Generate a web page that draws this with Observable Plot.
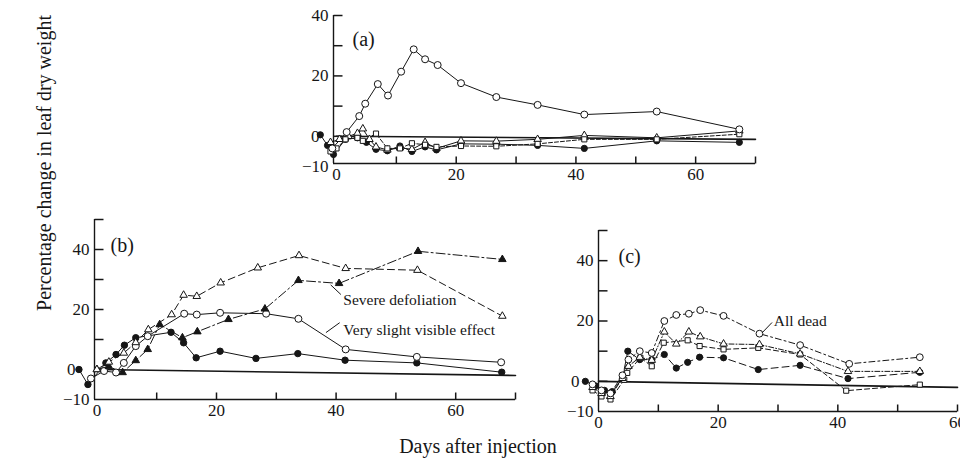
<!DOCTYPE html>
<html><head><meta charset="utf-8">
<script src="https://cdn.jsdelivr.net/npm/d3@7"></script>
<script src="https://cdn.jsdelivr.net/npm/@observablehq/plot@0.6"></script>
<style>
body{margin:0;background:#fff;}
#wrap{position:relative;width:960px;height:461px;overflow:hidden;font-family:"Liberation Serif",serif;background:#fff;}
#wrap svg{position:absolute;left:0;top:0;}
.lab{position:absolute;font-size:20px;color:#161616;white-space:nowrap;}
</style></head><body><div id="wrap"></div>
<script>
// ---------- Panel (a) data ----------
const aOpenDays   = [-0.7, 1.7, 3.8, 4.8, 6.9, 8.6, 10.8, 12.9, 14.8, 16.9, 20.8, 26.7, 33.6, 41.4, 53.5, 67.3];
const aOpenVals   = [-4, 1.4, 6.7, 10.8, 17.3, 13.5, 21.4, 28.8, 25.5, 23.6, 17.6, 13.0, 10.4, 7.2, 8.2, 2.3];
const aFilledDays = [-2.7, -1.5, -0.5, 1.5, 3.5, 5, 6.6, 8.5, 10.6, 12.6, 14.8, 16.7, 20.8, 26.7, 33.6, 41.4, 53.5, 67.3];
const aFilledVals = [0.5, -3, -6, -1, -0.5, -2, -4.3, -4.8, -3.2, -5, -3.5, -4.5, -2.5, -2.6, -3, -4, -1.5, -2];
const aTriDays    = [-1, 0.5, 2, 3.5, 4.4, 5.5, 6.6, 8.5, 10.6, 12.6, 14.8, 16.7, 20.8, 26.7, 33.6, 41.4, 53.5, 67.3];
const aTriVals    = [-2, -1, 0, 1, 2.5, -1, -3.5, -4.5, -3.8, -4.3, -2, -4, -1.5, -1.6, -1, 0.3, -0.5, 1.8];
const aSquareDays = [-1, 0, 1.5, 3.5, 4.4, 6.6, 8.5, 10.6, 12.6, 14.8, 16.7, 20.8, 26.7, 33.6, 41.4, 53.5, 67.3];
const aSquareVals = [-5, -4, -1, -0.5, -1.5, 0.9, -4, -4, -2.3, -2.8, -3.5, -3.2, -3.3, -2.5, -1, -1, 0.7];
const aBaseDays = [0, 70];
const aBaseVals = [0, -1];

// ---------- Panel (b) data ----------
const bOpenTriDays   = [0, 2, 4.5, 6.5, 8.6, 12.5, 14.5, 16.7, 20.7, 26.9, 33.8, 41.6, 53.6, 67.8];
const bOpenTriVals   = [0, 2.5, 5.5, 9, 13.3, 18.3, 24.8, 24.4, 28.9, 33.9, 38, 33.7, 33.1, 17.8];
const bFilledTriDays = [0, 2, 4.3, 6.5, 8.5, 10.5, 14.3, 16.8, 22, 28.1, 33.7, 40.5, 53.7, 67.8];
const bFilledTriVals = [0, 1, -1, 3, 6.7, 15, 10.6, 12.6, 16.7, 20.2, 29.7, 28.7, 39.4, 36.7];
const bOpenCircDays  = [-1, 1.2, 3.2, 4.5, 6.5, 8.5, 14.6, 16.7, 20.6, 28.3, 33.7, 41.6, 53.5, 67.6];
const bOpenCircVals  = [-3, -0.5, -1, 2.2, 7.8, 11.1, 18.6, 18.3, 18.9, 18.6, 16.9, 6.7, 4.2, 2.4];
const bFilledCircDays = [-3, -1.5, 1.5, 3.2, 4.6, 6.5, 12.4, 14.5, 16.6, 20.6, 26.6, 33.6, 41.5, 53.5, 67.7];
const bFilledCircVals = [0, -5, 2.2, 5, 8.1, 10.6, 12.4, 8.9, 3.9, 6.1, 3.7, 5.3, 3.1, 2.2, -0.9];
const bBaseDays = [0, 70];
const bBaseVals = [0, -2];

// ---------- Panel (c) data ----------
const cOpenCircDays = [-1, 0.5, 2, 4, 5, 6.9, 8.9, 11, 13, 15.1, 17, 20.9, 26.9, 33.7, 41.9, 53.7];
const cOpenCircVals = [-1, -3, -4, 2, 7.2, 10, 9.4, 20, 22, 22.4, 23.6, 21.7, 15.8, 12, 5.8, 8];
const cTriDays = [-1, 0.5, 2, 4, 5, 6.9, 8.9, 11, 13, 15.1, 17, 20.9, 26.9, 33.7, 41.7, 53.7];
const cTriVals = [-2, -4, -5, 1, 5, 8, 7, 16.4, 12.4, 16.4, 14.8, 12.4, 12.2, 9.1, 3.3, 3.3];
const cSquareDays = [-1, 0.5, 2, 4.3, 4.8, 7, 8.9, 10.9, 14.9, 16.9, 20.9, 26.7, 33.7, 41.4, 53.7];
const cSquareVals = [-3, -5, -6, 0.5, 2.8, 7.8, 5, 12.8, 13.6, 11.7, 10.6, 11.1, 8.9, -3.1, -1.1];
const cFilledDays = [-2.2, -0.5, 1, 2.3, 4, 4.9, 6.9, 8.9, 11, 13, 14.9, 16.9, 20.9, 26.7, 33.7, 41.7, 53.7];
const cFilledVals = [0, -1.5, -3, -3.4, 1, 10, 7.2, 7.2, 8.9, 4.4, 6.3, 8, 7.8, 3.9, 5.3, 0.9, 3];
const cBaseDays = [0, 60];
const cBaseVals = [0, -2];

// ---------- ticks ----------
const xTicks70 = [10, 20, 30, 40, 50, 60, 70];
const xTicks60 = [10, 20, 30, 40, 50, 60];
const xLabels = [0, 20, 40, 60];
const yTicksA = [0, 10, 20, 30, 40];
const yTicksBC = [0, 10, 20, 30, 40, 50];
const yLabels = [-10, 20, 40];
const yZeroLabel = [0];

const W = 960, H = 461, INK = "#161616";
const rows = (days, vals) => days.map((d, i) => ({day: d, val: vals[i]}));

function panel(cfg) {
  const [ml, mt, mr, mb] = cfg.margins;
  const pw = W - ml - mr, ph = H - mt - mb;
  const [x0, x1] = cfg.xDomain, [y0, y1] = cfg.yDomain;
  const tx = 9 * (x1 - x0) / pw;   // inward tick length in x data units
  const ty = 7 * (y1 - y0) / ph;   // inward tick length in y data units
  const marks = [
    Plot.axisY(yLabels, {tickSize: 0, tickPadding: 5, label: null}),
    Plot.axisY(yZeroLabel, {tickSize: 0, tickPadding: 5, dx: cfg.zeroDx, label: null}),
    Plot.ruleX([x0], {stroke: INK, strokeWidth: 1.4}),
    Plot.ruleY([y0], {stroke: INK, strokeWidth: 1.4}),
    Plot.link(cfg.yTicks, {x1: () => x0, x2: () => x0 + tx, y1: d => d, y2: d => d, stroke: INK, strokeWidth: 1.5}),
    Plot.link(cfg.xTicks, {x1: d => d, x2: d => d, y1: () => y0, y2: () => y0 + ty, stroke: INK, strokeWidth: 1.5}),
    Plot.line(rows(cfg.base[0], cfg.base[1]), {x: "day", y: "val", stroke: INK, strokeWidth: 1.6})
  ];
  for (const s of cfg.series) {
    const r = rows(s.days, s.vals);
    marks.push(Plot.line(r, {x: "day", y: "val", stroke: INK, strokeWidth: 1, strokeDasharray: s.dash || null}));
  }
  for (const s of cfg.series) {
    const r = rows(s.days, s.vals);
    marks.push(Plot.dot(r, {x: "day", y: "val", symbol: s.symbol, r: s.r,
      fill: s.filled ? INK : "white", stroke: INK, strokeWidth: 1}));
  }
  marks.push(Plot.text([cfg.tag], {frameAnchor: "top-left", dx: cfg.tagDx, dy: cfg.tagDy,
    text: d => d, fontSize: 20, textAnchor: "start", fill: INK}));
  for (const t of cfg.notes || []) {
    marks.push(Plot.link([t], {x1: "lx1", y1: "ly1", x2: "lx2", y2: "ly2", stroke: INK, strokeWidth: 1}));
    marks.push(Plot.text([t], {x: "tx", y: "ty", text: "label", textAnchor: "start", fontSize: 15.5, fill: INK}));
  }
  return Plot.plot({
    width: W, height: H,
    marginLeft: ml, marginTop: mt, marginRight: mr, marginBottom: mb,
    x: {domain: cfg.xDomain, ticks: xLabels, tickSize: 0, tickPadding: 4, label: null},
    y: {domain: cfg.yDomain, label: null},
    style: {fontFamily: '"Liberation Serif", serif', fontSize: "17px", background: "transparent", color: INK, overflow: "visible"},
    marks
  });
}

const circle = "circle", tri = "triangle", sq = "square";
const wrap = document.getElementById("wrap");

wrap.appendChild(panel({
  xDomain: [-0.5, 70], yDomain: [-9, 40], margins: [333, 15, 205, 298],
  xTicks: xTicks70, yTicks: yTicksA, base: [aBaseDays, aBaseVals],
  tag: "(a)", tagDx: 19, tagDy: 16, zeroDx: -9,
  series: [
    {days: aFilledDays, vals: aFilledVals, symbol: circle, filled: true, r: 3.1},
    {days: aTriDays, vals: aTriVals, symbol: tri, r: 2.8},
    {days: aSquareDays, vals: aSquareVals, symbol: sq, r: 2.9, dash: "4,2"},
    {days: aOpenDays, vals: aOpenVals, symbol: circle, r: 3.5}
  ]
}));

wrap.appendChild(panel({
  xDomain: [-0.4, 70], yDomain: [-10, 50], margins: [94, 219, 445, 62],
  xTicks: xTicks70, yTicks: yTicksBC, base: [bBaseDays, bBaseVals],
  tag: "(b)", tagDx: 16, tagDy: 18, zeroDx: -14,
  series: [
    {days: bFilledCircDays, vals: bFilledCircVals, symbol: circle, filled: true, r: 3.2},
    {days: bOpenCircDays, vals: bOpenCircVals, symbol: circle, r: 3.5},
    {days: bFilledTriDays, vals: bFilledTriVals, symbol: tri, filled: true, r: 2.8, dash: "9,3,2,3"},
    {days: bOpenTriDays, vals: bOpenTriVals, symbol: tri, r: 2.8, dash: "7,4"}
  ],
  notes: [
    {label: "Severe defoliation", tx: 41.2, ty: 23.3, lx1: 39.1, ly1: 28.2, lx2: 40.8, ly2: 25},
    {label: "Very slight visible effect", tx: 41.2, ty: 13, lx1: 40.6, ly1: 15.6, lx2: 38.3, ly2: 12.3}
  ]
}));

wrap.appendChild(panel({
  xDomain: [0, 60], yDomain: [-10, 50], margins: [598, 230, 3, 50],
  xTicks: xTicks60, yTicks: yTicksBC, base: [cBaseDays, cBaseVals],
  tag: "(c)", tagDx: 20, tagDy: 18, zeroDx: -14,
  series: [
    {days: cFilledDays, vals: cFilledVals, symbol: circle, filled: true, r: 3.1, dash: "7,4"},
    {days: cSquareDays, vals: cSquareVals, symbol: sq, r: 2.9, dash: "5,3"},
    {days: cTriDays, vals: cTriVals, symbol: tri, r: 2.8, dash: "5,2,1,2"},
    {days: cOpenCircDays, vals: cOpenCircVals, symbol: circle, r: 3.4, dash: "6,3,2,3"}
  ],
  notes: [
    {label: "All dead", tx: 29.3, ty: 20, lx1: 29, ly1: 19.5, lx2: 27.3, ly2: 16}
  ]
}));

const yl = document.createElement("div");
yl.className = "lab";
yl.textContent = "Percentage change in leaf dry weight";
yl.style.left = "44px"; yl.style.top = "163px";
yl.style.transform = "translate(-50%,-50%) rotate(-90deg)";
wrap.appendChild(yl);

const xl = document.createElement("div");
xl.className = "lab";
xl.textContent = "Days after injection";
xl.style.left = "478px"; xl.style.top = "446px";
xl.style.transform = "translate(-50%,-50%)";
wrap.appendChild(xl);
</script></body></html>
